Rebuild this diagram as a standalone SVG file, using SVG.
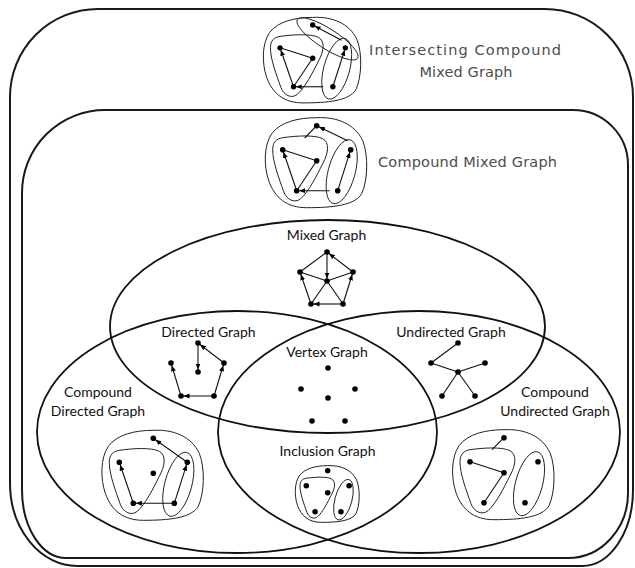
<svg xmlns="http://www.w3.org/2000/svg" xmlns:xlink="http://www.w3.org/1999/xlink" width="635" height="568" viewBox="0 0 635 568">
<style>
.big{fill:none;stroke:#1a1a1a;stroke-width:2}
.ell{fill:none;stroke:#111;stroke-width:1.8}
.blob{fill:none;stroke:#222;stroke-width:1;vector-effect:non-scaling-stroke}
.e{fill:none;stroke:#111;stroke-width:1.1;vector-effect:non-scaling-stroke}
.a{marker-end:url(#arr)}
.dot{fill:#000}
.lbl{font-family:Lato,"Open Sans",sans-serif;font-size:14px;fill:#111;text-anchor:middle}
.glbl{font-family:"DejaVu Sans","Open Sans",sans-serif;font-size:14.5px;fill:#4d4d4d;text-anchor:middle}
</style>
<defs>
<marker id="arr" markerUnits="userSpaceOnUse" markerWidth="10" markerHeight="6" refX="8.5" refY="2.5" orient="auto">
<path d="M0,0 L6,2.5 L0,5 z" fill="#000"/>
</marker>
<g id="blobs">
<path class="blob" d="M 0,-8 C 20,-9 38,-2 46,15 C 52,30 51,55 45,68 C 38,80 15,82 -10,82 C -30,82 -42,72 -48,55 C -53,40 -53,20 -45,8 C -36,-4 -18,-8 0,-8 Z"/>
<path class="blob" d="M -34,12 C -20,10 -2,9 6,13 C 13,17 12,27 6,38 C 0,50 -8,66 -16,73 C -22,78 -30,74 -33,66 C -38,52 -44,36 -44,24 C -44,16 -40,13 -34,12 Z"/>
<ellipse class="blob" cx="25" cy="46" rx="13.5" ry="33" transform="rotate(15 25 46)"/>
</g>
</defs>
<rect width="635" height="568" fill="#fff"/>

<g id="regions">
<path class="big" d="M 98,9 H 545 A 88 88 0 0 1 633 97 V 490 A 51 76 0 0 1 582 566 H 77 A 67 83 0 0 1 10 483 V 97 A 88 88 0 0 1 98 9 Z"/>
<path class="big" d="M 105,110 H 573 A 55 55 0 0 1 628 165 V 493 A 60 65 0 0 1 568 558 H 66 A 44 68 0 0 1 22 490 V 193 A 83 83 0 0 1 105 110 Z"/>
<ellipse class="ell" cx="327.5" cy="326.5" rx="217.5" ry="106.5"/>
<ellipse class="ell" cx="237" cy="432" rx="200" ry="121"/>
<ellipse class="ell" cx="419" cy="432" rx="201" ry="121"/>
</g>

<g id="intersecting-compound-mixed">
<text class="glbl" x="465" y="55" textLength="192" lengthAdjust="spacing">Intersecting Compound</text>
<text class="glbl" x="466" y="77" textLength="93" lengthAdjust="spacing">Mixed Graph</text>
<g transform="translate(312.7,25) scale(0.96,0.95)">
<use xlink:href="#blobs"/>
<ellipse class="blob" cx="15.4" cy="14.6" rx="37.5" ry="10.5" transform="rotate(33 15.4 14.6)"/>
<line class="e a" x1="30" y1="16" x2="0" y2="0"/>
<line class="e" x1="-34" y1="24" x2="0" y2="35"/>
<line class="e a" x1="-20" y1="65" x2="-34" y2="24"/>
<line class="e" x1="0" y1="35" x2="-20" y2="65"/>
<line class="e a" x1="11" y1="65" x2="-20" y2="65"/>
<line class="e a" x1="21" y1="65" x2="34" y2="24"/>
<circle class="dot" cx="0" cy="0" r="2.8"/><circle class="dot" cx="-34" cy="24" r="2.8"/><circle class="dot" cx="0" cy="35" r="2.8"/><circle class="dot" cx="34" cy="24" r="2.8"/><circle class="dot" cx="-20" cy="65" r="2.8"/><circle class="dot" cx="21" cy="65" r="2.8"/>
</g>
</g>

<g id="compound-mixed">
<text class="glbl" x="467.5" y="167" textLength="179" lengthAdjust="spacing">Compound Mixed Graph</text>
<g transform="translate(316.7,125.7)">
<use xlink:href="#blobs"/>
<line class="e" x1="0" y1="0" x2="-12" y2="12.3"/>
<line class="e a" x1="31" y1="15" x2="0" y2="0"/>
<line class="e" x1="-34" y1="24" x2="0" y2="35"/>
<line class="e a" x1="-20" y1="65" x2="-34" y2="24"/>
<line class="e" x1="0" y1="35" x2="-20" y2="65"/>
<line class="e a" x1="13" y1="65" x2="-20" y2="65"/>
<line class="e a" x1="21" y1="65" x2="34" y2="24"/>
<circle class="dot" cx="0" cy="0" r="2.8"/><circle class="dot" cx="-34" cy="24" r="2.8"/><circle class="dot" cx="0" cy="35" r="2.8"/><circle class="dot" cx="34" cy="24" r="2.8"/><circle class="dot" cx="-20" cy="65" r="2.8"/><circle class="dot" cx="21" cy="65" r="2.8"/>
</g>
</g>

<g id="mixed">
<text class="lbl" x="326.5" y="240">Mixed Graph</text>
<line class="e" x1="327" y1="252" x2="300" y2="272"/>
<line class="e a" x1="327" y1="252" x2="327" y2="281"/>
<line class="e a" x1="353" y1="272" x2="327" y2="252"/>
<line class="e" x1="300" y1="272" x2="327" y2="281"/>
<line class="e" x1="327" y1="281" x2="353" y2="272"/>
<line class="e" x1="327" y1="281" x2="311" y2="304"/>
<line class="e" x1="327" y1="281" x2="343" y2="304"/>
<line class="e a" x1="311" y1="304" x2="300" y2="272"/>
<line class="e a" x1="343" y1="304" x2="311" y2="304"/>
<line class="e a" x1="343" y1="304" x2="353" y2="272"/>
<circle class="dot" cx="327" cy="252" r="2.8"/><circle class="dot" cx="300" cy="272" r="2.8"/><circle class="dot" cx="327" cy="281" r="2.8"/><circle class="dot" cx="353" cy="272" r="2.8"/><circle class="dot" cx="311" cy="304" r="2.8"/><circle class="dot" cx="343" cy="304" r="2.8"/>
</g>

<g id="directed">
<text class="lbl" x="208.5" y="337">Directed Graph</text>
<line class="e a" x1="198" y1="343" x2="198" y2="372"/>
<line class="e a" x1="224" y1="363" x2="198" y2="343"/>
<line class="e a" x1="181" y1="396" x2="171" y2="363"/>
<line class="e a" x1="214" y1="396" x2="181" y2="396"/>
<line class="e a" x1="214" y1="396" x2="224" y2="363"/>
<circle class="dot" cx="198" cy="343" r="2.8"/><circle class="dot" cx="198" cy="372" r="2.8"/><circle class="dot" cx="171" cy="363" r="2.8"/><circle class="dot" cx="224" cy="363" r="2.8"/><circle class="dot" cx="181" cy="396" r="2.8"/><circle class="dot" cx="214" cy="396" r="2.8"/>
</g>

<g id="undirected">
<text class="lbl" x="451" y="337">Undirected Graph</text>
<line class="e" x1="458" y1="343" x2="431" y2="363"/>
<line class="e" x1="431" y1="363" x2="458" y2="372"/>
<line class="e" x1="458" y1="372" x2="485" y2="363"/>
<line class="e" x1="458" y1="372" x2="442" y2="396"/>
<line class="e" x1="458" y1="372" x2="475" y2="396"/>
<circle class="dot" cx="458" cy="343" r="2.8"/><circle class="dot" cx="431" cy="363" r="2.8"/><circle class="dot" cx="458" cy="372" r="2.8"/><circle class="dot" cx="485" cy="363" r="2.8"/><circle class="dot" cx="442" cy="396" r="2.8"/><circle class="dot" cx="475" cy="396" r="2.8"/>
</g>

<g id="vertex">
<text class="lbl" x="327" y="357">Vertex Graph</text>
<circle class="dot" cx="328" cy="368" r="2.8"/><circle class="dot" cx="301" cy="389" r="2.8"/><circle class="dot" cx="355" cy="389" r="2.8"/><circle class="dot" cx="328" cy="398" r="2.8"/><circle class="dot" cx="312" cy="421" r="2.8"/><circle class="dot" cx="345" cy="421" r="2.8"/>
</g>

<g id="compound-directed">
<text class="lbl" x="98" y="397">Compound</text>
<text class="lbl" x="98" y="416">Directed Graph</text>
<g transform="translate(153.3,438.3)">
<use xlink:href="#blobs"/>
<line class="e a" x1="34" y1="24" x2="0" y2="0"/>
<line class="e a" x1="-20" y1="65" x2="-34" y2="24"/>
<line class="e a" x1="21" y1="65" x2="-20" y2="65"/>
<line class="e a" x1="21" y1="65" x2="34" y2="24"/>
<circle class="dot" cx="0" cy="0" r="2.8"/><circle class="dot" cx="-34" cy="24" r="2.8"/><circle class="dot" cx="0" cy="35" r="2.8"/><circle class="dot" cx="34" cy="24" r="2.8"/><circle class="dot" cx="-20" cy="65" r="2.8"/><circle class="dot" cx="21" cy="65" r="2.8"/>
</g>
</g>

<g id="compound-undirected">
<text class="lbl" x="555" y="397">Compound</text>
<text class="lbl" x="555" y="416">Undirected Graph</text>
<g transform="translate(504,437.7)">
<use xlink:href="#blobs"/>
<line class="e" x1="0" y1="0" x2="-12" y2="12"/>
<line class="e" x1="-34" y1="24" x2="0" y2="35"/>
<line class="e" x1="0" y1="35" x2="-20" y2="65"/>
<circle class="dot" cx="0" cy="0" r="2.8"/><circle class="dot" cx="-34" cy="24" r="2.8"/><circle class="dot" cx="0" cy="35" r="2.8"/><circle class="dot" cx="34" cy="24" r="2.8"/><circle class="dot" cx="-20" cy="65" r="2.8"/><circle class="dot" cx="21" cy="65" r="2.8"/>
</g>
</g>

<g id="inclusion">
<text class="lbl" x="327.5" y="456">Inclusion Graph</text>
<g transform="translate(327.7,470.7) scale(0.63)">
<use xlink:href="#blobs"/>
<circle class="dot" cx="0" cy="0" r="4.4"/><circle class="dot" cx="-34" cy="24" r="4.4"/><circle class="dot" cx="0" cy="35" r="4.4"/><circle class="dot" cx="34" cy="24" r="4.4"/><circle class="dot" cx="-20" cy="65" r="4.4"/><circle class="dot" cx="21" cy="65" r="4.4"/>
</g>
</g>
</svg>
